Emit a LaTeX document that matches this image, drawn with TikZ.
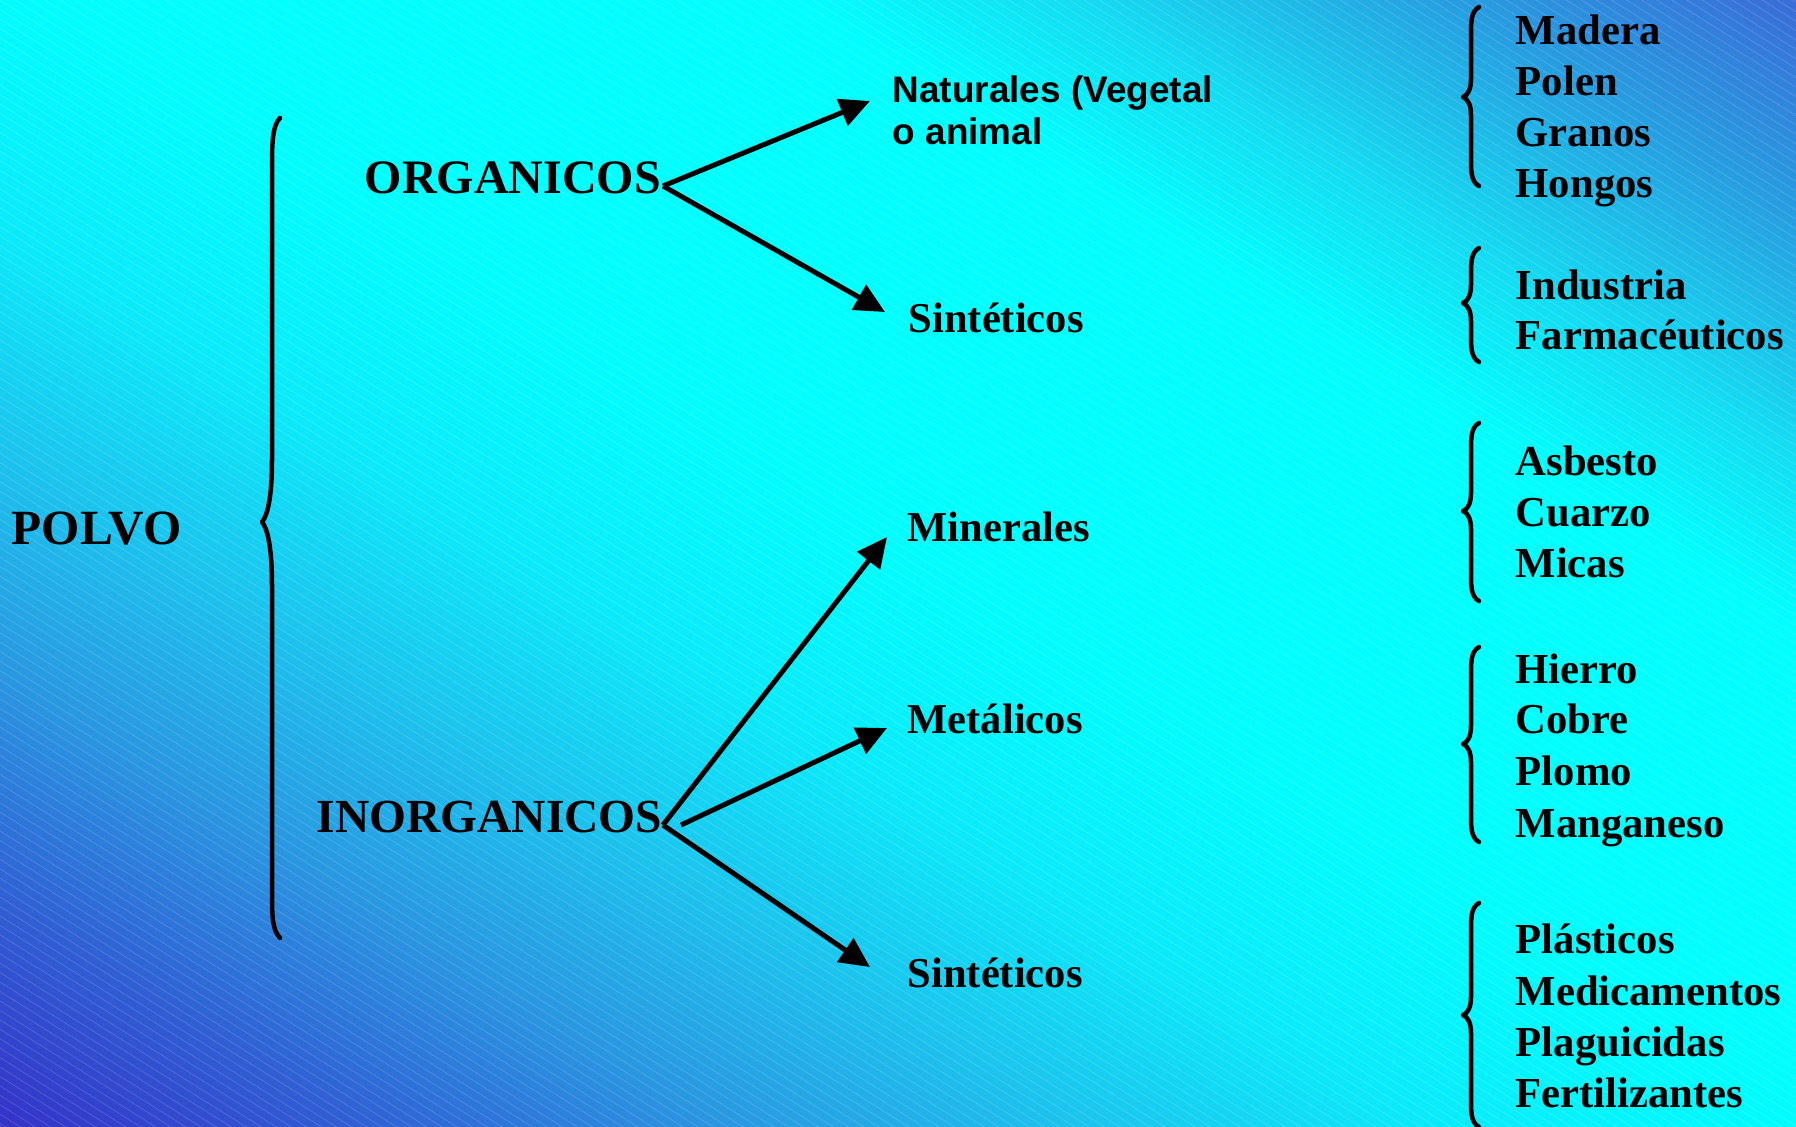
\documentclass[tikz,border=0pt]{standalone}
\usepackage{fontspec}
\setmainfont{Liberation Serif}
\newfontfamily\sansB{Liberation Sans}
\usetikzlibrary{arrows.meta}
\definecolor{cA}{RGB}{52,50,200}
\definecolor{cB}{RGB}{48,95,212}
\definecolor{cC}{RGB}{42,150,225}
\definecolor{cD}{RGB}{28,195,238}
\definecolor{cE}{RGB}{10,235,250}
\definecolor{cF}{RGB}{0,252,255}
\definecolor{cG}{RGB}{0,255,255}
\definecolor{cH}{RGB}{20,220,242}
\definecolor{cI}{RGB}{38,160,225}
\definecolor{cJ}{RGB}{58,108,215}
\pgfdeclareverticalshading{bgshade}{100bp}{color(0bp)=(cA); color(25bp)=(cA); color(30bp)=(cB); color(35bp)=(cC); color(40bp)=(cD); color(45bp)=(cE); color(50bp)=(cF); color(52.5bp)=(cG); color(61bp)=(cG); color(65bp)=(cH); color(70bp)=(cI); color(75bp)=(cJ); color(100bp)=(cJ)}
\tikzset{
  bigtxt/.style={anchor=base west, inner sep=0pt, font=\fontsize{13.66pt}{16pt}\selectfont\bfseries},
  midtxt/.style={anchor=base west, inner sep=0pt, font=\fontsize{12.1pt}{14pt}\selectfont\bfseries},
  itemtxt/.style={anchor=base west, inner sep=0pt, font=\fontsize{12.15pt}{14pt}\selectfont\bfseries},
  nattxt/.style={anchor=base west, inner sep=0pt, font=\sansB\fontsize{10.5pt}{12pt}\selectfont\bfseries},
  arr/.style={line width=0.05cm, -{Triangle[length=0.3cm,width=0.28cm]}},
  bracepath/.style={line width=0.045cm, line cap=round, line join=round},
}
\newcommand\rbr[3]{%
  \draw[bracepath] (1479,#1) .. controls (1472,{#1+4}) and (1471,{#1+12}) .. (1471,{#1+25})
    -- (1471,{#2-18}) .. controls (1471,{#2-8}) and (1468,{#2-2}) .. (1463,#2)
    .. controls (1468,{#2+2}) and (1471,{#2+8}) .. (1471,{#2+18})
    -- (1471,{#3-25}) .. controls (1471,{#3-12}) and (1472,{#3-4}) .. (1479,#3);}
\begin{document}
\begin{tikzpicture}[x=0.01cm,y=-0.01cm]
\useasboundingbox (0,0) rectangle (1796,1126);
% background
\begin{scope}
  \clip (0,0) rectangle (1796,1126);
  \begin{scope}[transform canvas={shift={(898,563)}, rotate=-32.08}]
    \fill[shading=bgshade] (-1400,-954) rectangle (1400,954);
    \foreach \k in {-125,...,125}
      \draw[white, opacity=0.15, line width=0.008cm] (-1400,{\k*8}) -- (1400,{\k*8});
  \end{scope}
\end{scope}

% big brace
\draw[bracepath] (280,118) .. controls (273,125) and (272,140) .. (272,165)
  -- (272,460) .. controls (272,495) and (268,515) .. (262,522)
  .. controls (268,529) and (272,550) .. (272,585)
  -- (272,895) .. controls (272,920) and (273,930) .. (280,938);

% main labels
\node[bigtxt, font=\fontsize{14pt}{16pt}\selectfont\bfseries] (polvo) at (11,544) {POLVO};
\node[bigtxt] (org) at (364,193) {ORGANICOS};
\node[bigtxt, font=\fontsize{13.5pt}{16pt}\selectfont\bfseries] (inorg) at (316,832) {INORGANICOS};

% second level
\node[nattxt] (nat1) at (892,102) {Naturales (Vegetal};
\node[nattxt] (nat2) at (892,144) {o animal};
\node[midtxt] (sin1) at (908,332) {Sintéticos};
\node[midtxt] (min) at (907,541) {Minerales};
\node[midtxt] (met) at (907,733) {Metálicos};
\node[midtxt] (sin2) at (907,987) {Sintéticos};

% arrows
\coordinate (ov) at (663,186);
\coordinate (ot1) at (870,101);
\coordinate (ot2) at (885,312);
\coordinate (iv) at (663,825);
\coordinate (iv2) at (681,825);
\coordinate (it1) at (887,537);
\coordinate (it2) at (887,728);
\coordinate (it3) at (870,967);
\draw[arr] (ov) -- (ot1);
\draw[arr] (ov) -- (ot2);
\draw[arr] (iv) -- (it1);
\draw[arr] (iv2) -- (it2);
\draw[arr] (iv) -- (it3);

% right braces
\rbr{7}{97}{186}
\rbr{248}{303}{362}
\rbr{423}{511}{601}
\rbr{647}{744}{842}
\rbr{903}{1015}{1127}

% right lists
\node[itemtxt] (l1) at (1515,44) {Madera};
\node[itemtxt] (l2) at (1515,95) {Polen};
\node[itemtxt] (l3) at (1515,146) {Granos};
\node[itemtxt] (l4) at (1515,197) {Hongos};
\node[itemtxt] (l5) at (1515,299) {Industria};
\node[itemtxt] (l6) at (1515,349) {Farmacéuticos};
\node[itemtxt] (l7) at (1515,475) {Asbesto};
\node[itemtxt] (l8) at (1515,526) {Cuarzo};
\node[itemtxt] (l9) at (1515,577) {Micas};
\node[itemtxt] (l10) at (1515,683) {Hierro};
\node[itemtxt] (l11) at (1515,733) {Cobre};
\node[itemtxt] (l12) at (1515,785) {Plomo};
\node[itemtxt] (l13) at (1515,837) {Manganeso};
\node[itemtxt] (l14) at (1515,953) {Plásticos};
\node[itemtxt] (l15) at (1515,1005) {Medicamentos};
\node[itemtxt] (l16) at (1515,1056) {Plaguicidas};
\node[itemtxt] (l17) at (1515,1107) {Fertilizantes};
\end{tikzpicture}
\end{document}
